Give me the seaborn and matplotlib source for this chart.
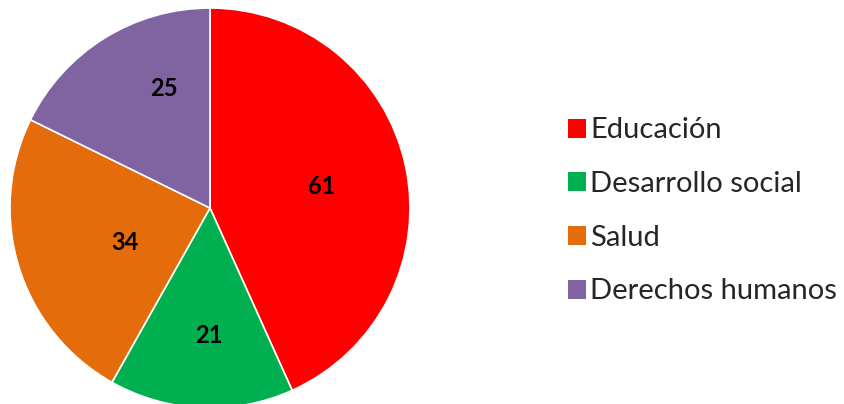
import matplotlib
matplotlib.use('Agg')
import numpy as np
import seaborn as sns
import matplotlib.pyplot as plt
from matplotlib.patches import Patch

categorias = ['Educación', 'Desarrollo social', 'Salud', 'Derechos humanos']
valores = [61, 21, 34, 25]
colores = ['#FF0000', '#00B050', '#E46C0A', '#8064A2']
# posicion de cada etiqueta: distancia (fraccion del radio) y giro (grados) respecto al centro del sector
dist_etiqueta = [0.57, 0.64, 0.46, 0.64]
giro_etiqueta = [-1.5, 2.0, 4.5, -11.0]

sns.set_style('white')
plt.rcParams['font.family'] = ['Lato', 'DejaVu Sans']

fig = plt.figure(figsize=(8.44, 4.04), dpi=100)
ax = fig.add_axes([10 / 844, -4 / 404, 400 / 844, 400 / 404])

wedges, _ = ax.pie(valores, colors=colores, startangle=90, counterclock=False,
                   radius=1.0, wedgeprops=dict(linewidth=1.2, edgecolor='white'))
for w, v, d, g in zip(wedges, valores, dist_etiqueta, giro_etiqueta):
    ang = np.deg2rad((w.theta1 + w.theta2) / 2 + g)
    ax.text(d * np.cos(ang), d * np.sin(ang), str(v), ha='center', va='center',
            fontsize=17, fontweight='bold', color='black')
ax.set_xlim(-1, 1)
ax.set_ylim(-1, 1)
ax.set_aspect('equal')

handles = [Patch(facecolor=c, edgecolor='none') for c in colores]
fig.legend(handles, categorias, loc='center left', bbox_to_anchor=(568 / 844, 0.478),
           frameon=False, fontsize=21, handlelength=0.62, handleheight=0.62,
           handletextpad=0.15, labelspacing=0.95, borderpad=0, borderaxespad=0)

fig.savefig('out.png', dpi=100)
